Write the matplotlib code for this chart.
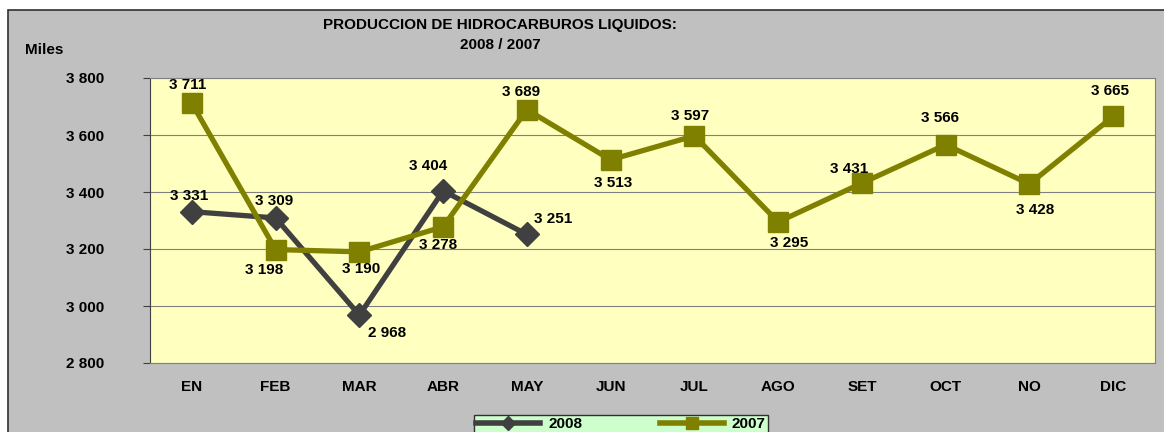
import numpy as np
import matplotlib.pyplot as plt
from matplotlib.patches import Rectangle
from matplotlib.lines import Line2D

months = ['EN', 'FEB', 'MAR', 'ABR', 'MAY', 'JUN', 'JUL', 'AGO', 'SET', 'OCT', 'NO', 'DIC']
prod_2008 = [3331, 3309, 2968, 3404, 3251]
prod_2007 = [3711, 3198, 3190, 3278, 3689, 3513, 3597, 3295, 3431, 3566, 3428, 3665]

# label offsets in points (style only)
off_2008 = [(-2, 11), (-1, 12), (20, -13), (-11, 18), (19, 11)]
off_2007 = [(-3, 13), (-8, -15), (1, -12), (-4, -13), (-4, 13), (2, -17),
            (-3, 14), (8, -15), (-9, 10), (-4, 19), (4, -19), (-2, 18)]

def fmt(v):
    return f'{v:,}'.replace(',', ' ')

plt.rcParams['font.family'] = ['Liberation Sans', 'DejaVu Sans']
plt.rcParams['font.weight'] = 'bold'
FS = 11

fig = plt.figure(figsize=(11.64, 4.32), dpi=100)
fig.patch.set_facecolor('white')
fig.patches.append(Rectangle((8 / 1164, -0.1), 1.2, (432 - 10) / 432 + 0.1,
                             transform=fig.transFigure, facecolor='#C0C0C0',
                             edgecolor='#303030', linewidth=1.2, zorder=-10))

ax = fig.add_axes([150 / 1164, 69 / 432, 1005 / 1164, 285 / 432])
ax.set_facecolor('#FFFFC0')
x = np.arange(len(months))
x8 = np.arange(len(prod_2008))

ax.plot(x8, prod_2008, color='#404040', lw=3.8, marker='D', ms=12, zorder=3)
ax.plot(x, prod_2007, color='#808000', lw=3.8, marker='s', ms=14, zorder=4)

for xi, v, o in zip(x8, prod_2008, off_2008):
    ax.annotate(fmt(v), (xi, v), xytext=o, textcoords='offset points',
                ha='center', va='center', fontsize=FS, fontweight='bold', zorder=5)
for xi, v, o in zip(x, prod_2007, off_2007):
    ax.annotate(fmt(v), (xi, v), xytext=o, textcoords='offset points',
                ha='center', va='center', fontsize=FS, fontweight='bold', zorder=5)

ax.set_xlim(-0.5, len(months) - 0.5)
ax.set_ylim(2800, 3800)
yt = [2800, 3000, 3200, 3400, 3600, 3800]
ax.set_yticks(yt)
ax.set_yticklabels([fmt(v) for v in yt], fontsize=FS, fontweight='bold')
ax.set_xticks(x)
ax.set_xticklabels(months, fontsize=FS, fontweight='bold')
ax.tick_params(axis='x', length=0, pad=12)
ax.tick_params(axis='y', length=5, direction='out', pad=28, color='#404040')
ax.grid(axis='y', color='#808080', lw=0.8)
ax.set_axisbelow(True)
for s in ['top', 'right', 'bottom']:
    ax.spines[s].set_color('#808080')
ax.spines['left'].set_color('#404040')

fig.text(500 / 1164, 1 - 25 / 432, 'PRODUCCION DE HIDROCARBUROS LIQUIDOS:', ha='center', va='center',
         fontsize=FS, fontweight='bold')
fig.text(500 / 1164, 1 - 45 / 432, '2008 / 2007', ha='center', va='center',
         fontsize=FS, fontweight='bold')
fig.text(25 / 1164, 1 - 50 / 432, 'Miles', ha='left', va='center',
         fontsize=FS, fontweight='bold')

handles = [Line2D([], [], color='#404040', lw=4, marker='D', ms=7),
           Line2D([], [], color='#808000', lw=4, marker='s', ms=9)]
leg = fig.legend(handles, ['2008', '2007'], loc='upper left',
                 bbox_to_anchor=(474 / 1164, 1 - 415 / 432, 294 / 1164, 0), mode='expand',
                 ncol=2, frameon=True, fancybox=False, facecolor='#CCFFCC', edgecolor='#303030',
                 fontsize=FS, handlelength=4.2, handletextpad=0.5,
                 borderpad=0.15, borderaxespad=0)
leg.get_frame().set_linewidth(1)
leg.get_frame().set_alpha(1)

fig.savefig('out.png', dpi=100)
